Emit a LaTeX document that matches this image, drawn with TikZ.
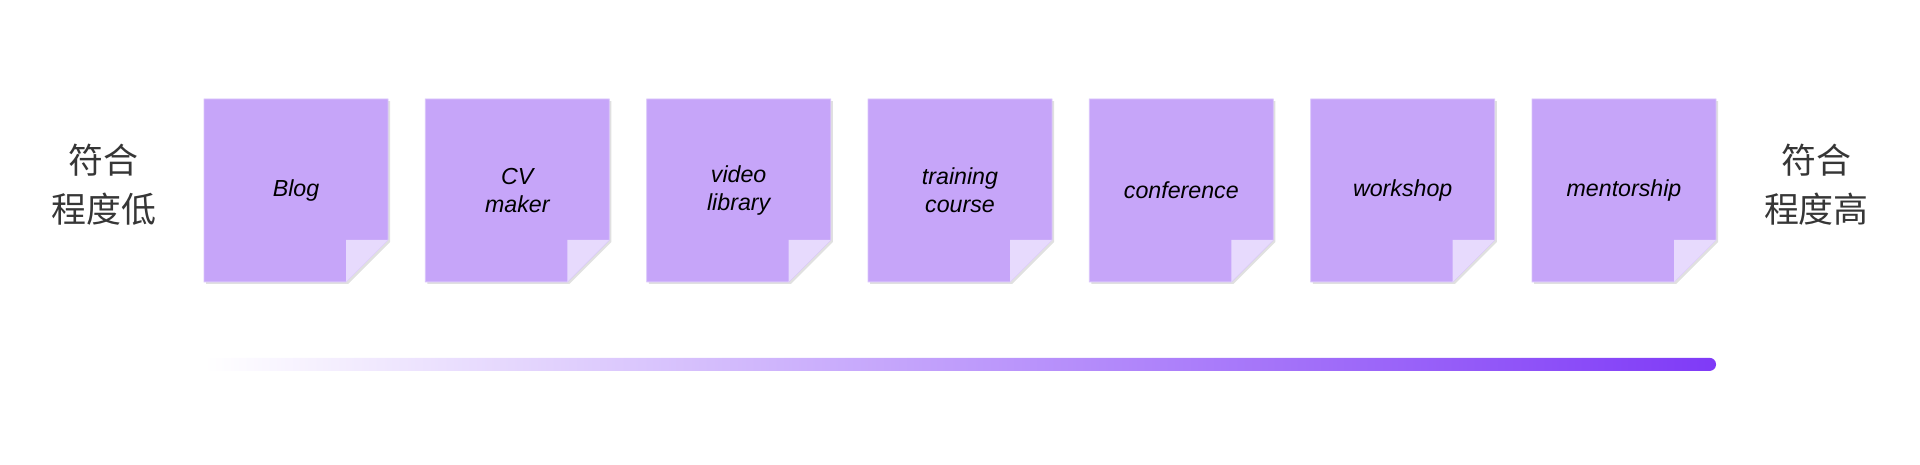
\documentclass[tikz,border=0pt]{standalone}
\usepackage{fontspec}
\setmainfont{Liberation Sans}
\newfontfamily\cjkfont{Noto Sans CJK SC}
\usetikzlibrary{positioning,shadows,backgrounds}

\definecolor{notefill}{HTML}{C6A5F9}
\definecolor{notefold}{HTML}{E7DAFD}
\definecolor{noteedge}{HTML}{D9C4FB}
\definecolor{labelgray}{HTML}{363636}
\definecolor{barend}{HTML}{7F3AF7}

\begin{document}
\begin{tikzpicture}[
  font=\itshape,
  node distance=14pt,
  sticky/.style={
    minimum width=69pt,
    minimum height=68.6pt,
    inner sep=0pt,
    outer sep=0pt,
    align=center,
    font=\itshape\fontsize{8.7pt}{10.3pt}\selectfont
  },
  paper/.style={
    fill=notefill,
    draw=noteedge,
    line width=0.3pt,
    drop shadow={shadow xshift=0.8pt, shadow yshift=-0.8pt, fill=black, opacity=0.12}
  },
  fold/.style={fill=notefold},
  fitlabel/.style={
    inner sep=0pt,
    outer sep=0pt,
    align=center,
    text=labelgray,
    font=\cjkfont\fontsize{13.1pt}{18.4pt}\selectfont
  }
]

\useasboundingbox (0,0) rectangle (720pt,-174.375pt);

\node[sticky] (blog) at (111pt,-71.4pt) {Blog};
\node[sticky, right=of blog] (cvmaker) {CV\\maker};
\node[sticky, right=of cvmaker] (video) {video\\library};
\node[sticky, right=of video] (training) {training\\course};
\node[sticky, right=of training] (conf) {conference};
\node[sticky, right=of conf] (workshop) {workshop};
\node[sticky, right=of workshop] (mentor) {mentorship};

\node[fitlabel, left=18pt of blog, yshift=2pt] (low) {符合\\程度低};
\node[fitlabel, right=18pt of mentor, yshift=2pt] (high) {符合\\程度高};

% paper and folded corner behind each note
\begin{scope}[on background layer]
  \foreach \n in {blog,cvmaker,video,training,conf,workshop,mentor} {
    \path[paper] (\n.north west) -- (\n.north east) -- ([yshift=15.75pt]\n.south east)
      -- ([xshift=-15.75pt]\n.south east) -- (\n.south west) -- cycle;
    \path[fold] ([xshift=-15.75pt]\n.south east) -- ([xshift=-15.75pt,yshift=15.75pt]\n.south east)
      -- ([yshift=15.75pt]\n.south east) -- cycle;
  }
\end{scope}

% gradient scale under the notes
\shade[left color=white, right color=barend, rounded corners=2.4pt]
  ([yshift=-28.5pt]blog.south west) rectangle ([yshift=-102pt]mentor.north east);

\end{tikzpicture}
\end{document}
